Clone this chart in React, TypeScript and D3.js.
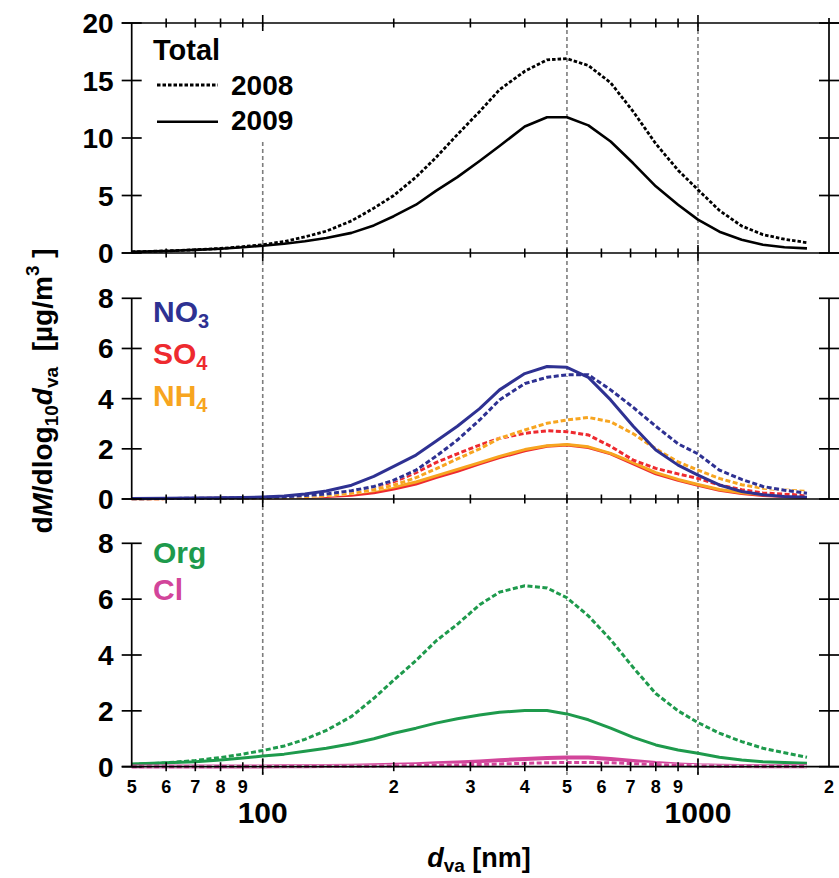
import React from "react";
import * as d3 from "d3";

// particle size (nm)
const sizes = [50, 60, 70, 80, 90, 100, 112, 125, 140, 160, 180, 200, 225, 250, 280, 315, 350, 400, 450, 500, 560, 630, 710, 800, 900, 1000, 1120, 1260, 1410, 1580, 1780];

const total2008 = [0.1, 0.18, 0.28, 0.4, 0.55, 0.72, 1.0, 1.4, 1.9, 2.8, 3.9, 5.0, 6.6, 8.3, 10.3, 12.3, 14.2, 15.8, 16.8, 16.9, 16.3, 14.8, 12.3, 9.5, 7.2, 5.5, 3.7, 2.35, 1.6, 1.2, 0.9];
const total2009 = [0.1, 0.18, 0.27, 0.37, 0.5, 0.63, 0.8, 1.02, 1.3, 1.75, 2.4, 3.2, 4.2, 5.4, 6.6, 8.0, 9.3, 11.0, 11.8, 11.8, 11.1, 9.7, 7.8, 5.8, 4.2, 2.9, 1.85, 1.15, 0.72, 0.5, 0.4];

const no3_2008 = [0.01, 0.02, 0.03, 0.035, 0.045, 0.06, 0.09, 0.14, 0.2, 0.33, 0.5, 0.75, 1.15, 1.7, 2.35, 3.15, 3.95, 4.6, 4.85, 4.95, 4.95, 4.35, 3.65, 2.9, 2.2, 1.8, 1.15, 0.78, 0.5, 0.35, 0.23];
const no3_2009 = [0.02, 0.03, 0.04, 0.05, 0.06, 0.08, 0.12, 0.2, 0.32, 0.55, 0.9, 1.3, 1.75, 2.3, 2.9, 3.6, 4.35, 5.0, 5.28, 5.25, 4.85, 3.95, 2.9, 1.95, 1.35, 0.95, 0.56, 0.3, 0.17, 0.1, 0.07];
const so4_2008 = [0.01, 0.015, 0.02, 0.03, 0.04, 0.05, 0.07, 0.11, 0.17, 0.28, 0.45, 0.68, 1.05, 1.45, 1.8, 2.15, 2.42, 2.62, 2.72, 2.68, 2.55, 2.1, 1.55, 1.22, 1.0, 0.82, 0.56, 0.37, 0.24, 0.19, 0.16];
const so4_2009 = [0.01, 0.015, 0.02, 0.025, 0.03, 0.04, 0.05, 0.07, 0.1, 0.15, 0.25, 0.4, 0.6, 0.85, 1.1, 1.4, 1.65, 1.92, 2.1, 2.15, 2.05, 1.8, 1.4, 1.0, 0.75, 0.55, 0.35, 0.22, 0.14, 0.1, 0.07];
const nh4_2008 = [0.01, 0.015, 0.02, 0.025, 0.03, 0.04, 0.06, 0.09, 0.14, 0.23, 0.37, 0.55, 0.85, 1.2, 1.6, 2.0, 2.42, 2.75, 3.02, 3.15, 3.25, 3.08, 2.6, 2.0, 1.48, 1.15, 0.82, 0.57, 0.43, 0.36, 0.3];
const nh4_2009 = [0.01, 0.015, 0.02, 0.03, 0.04, 0.05, 0.07, 0.1, 0.14, 0.22, 0.33, 0.48, 0.68, 0.92, 1.18, 1.45, 1.7, 1.97, 2.12, 2.17, 2.08, 1.82, 1.45, 1.05, 0.78, 0.58, 0.38, 0.25, 0.18, 0.15, 0.13];

const org2008 = [0.08, 0.14, 0.22, 0.33, 0.45, 0.58, 0.74, 0.98, 1.3, 1.8, 2.45, 3.1, 3.8, 4.5, 5.1, 5.8, 6.25, 6.48, 6.4, 6.05, 5.4, 4.55, 3.55, 2.62, 2.0, 1.58, 1.2, 0.9, 0.66, 0.5, 0.34];
const org2009 = [0.1, 0.14, 0.18, 0.24, 0.31, 0.38, 0.45, 0.55, 0.66, 0.82, 1.0, 1.2, 1.38, 1.56, 1.72, 1.85, 1.95, 2.01, 2.01, 1.89, 1.68, 1.38, 1.05, 0.78, 0.6, 0.48, 0.34, 0.24, 0.18, 0.15, 0.12];
const cl2008 = [0.0, 0.0, 0.0, 0.003, 0.004, 0.005, 0.007, 0.01, 0.012, 0.015, 0.02, 0.03, 0.04, 0.05, 0.065, 0.08, 0.1, 0.12, 0.14, 0.15, 0.15, 0.14, 0.11, 0.08, 0.05, 0.03, 0.02, 0.015, 0.01, 0.01, 0.01];
const cl2009 = [0.01, 0.01, 0.01, 0.01, 0.01, 0.01, 0.015, 0.02, 0.025, 0.035, 0.05, 0.07, 0.09, 0.12, 0.15, 0.19, 0.23, 0.28, 0.31, 0.33, 0.33, 0.28, 0.2, 0.13, 0.08, 0.05, 0.035, 0.025, 0.02, 0.02, 0.02];

const xMinorTicks = [60, 70, 80, 90, 200, 300, 400, 500, 600, 700, 800, 900];
const xMajorTicks = [100, 1000];
const xMinorLabels = [50, 60, 70, 80, 90, 200, 300, 400, 500, 600, 700, 800, 900, 2000];
const gridValues = [100, 500, 1000];
const ticksTotal = [0, 5, 10, 15, 20];
const ticksSpecies = [0, 2, 4, 6, 8];

const C = {
  no3: "#2E3192",
  so4: "#EE2A2F",
  nh4: "#F7A520",
  org: "#1E9A4C",
  cl: "#D2459A",
};

const FONT = "'Liberation Sans', Arial, Helvetica, sans-serif";

const W = 839;
const H = 878;
const X0 = 131.7;
const X1 = 829;

const x = d3.scaleLog().domain([50, 2000]).range([X0, X1]);

type Series = { values: number[]; color: string; dashed: boolean; width: number };
type Panel = {
  top: number;
  bottom: number;
  max: number;
  ticks: number[];
  topFrame: boolean;
  series: Series[];
};

const panels: Panel[] = [
  {
    top: 23,
    bottom: 253,
    max: 20,
    ticks: ticksTotal,
    topFrame: true,
    series: [
      { values: total2009, color: "#000", dashed: false, width: 2.6 },
      { values: total2008, color: "#000", dashed: true, width: 2.8 },
    ],
  },
  {
    top: 298.3,
    bottom: 499,
    max: 8,
    ticks: ticksSpecies,
    topFrame: false,
    series: [
      { values: so4_2009, color: C.so4, dashed: false, width: 3 },
      { values: nh4_2009, color: C.nh4, dashed: false, width: 3 },
      { values: so4_2008, color: C.so4, dashed: true, width: 3 },
      { values: nh4_2008, color: C.nh4, dashed: true, width: 3 },
      { values: no3_2008, color: C.no3, dashed: true, width: 3 },
      { values: no3_2009, color: C.no3, dashed: false, width: 3 },
    ],
  },
  {
    top: 543.3,
    bottom: 766.7,
    max: 8,
    ticks: ticksSpecies,
    topFrame: false,
    series: [
      { values: org2008, color: C.org, dashed: true, width: 3 },
      { values: org2009, color: C.org, dashed: false, width: 3 },
      { values: cl2009, color: C.cl, dashed: false, width: 4 },
      { values: cl2008, color: C.cl, dashed: true, width: 3 },
    ],
  },
];

function XTicks({ y }: { y: number }) {
  return (
    <g stroke="#000" strokeWidth={1.6}>
      {xMinorTicks.map((t) => (
        <line key={"m" + t} x1={x(t)} x2={x(t)} y1={y - 4.5} y2={y + 4.5} />
      ))}
      {xMajorTicks.map((t) => (
        <line key={"M" + t} x1={x(t)} x2={x(t)} y1={y - 8} y2={y + 8} />
      ))}
    </g>
  );
}

function PanelView({ p }: { p: Panel }) {
  const y = d3.scaleLinear().domain([0, p.max]).range([p.bottom, p.top]);
  const line = d3
    .line<number>()
    .x((_, i) => x(sizes[i]))
    .y((d) => y(d));
  return (
    <g>
      {p.series.map((s, i) =>
        s.dashed ? (
          <g key={i}>
            {s.color !== "#000" && (
              <path d={line(s.values) || ""} fill="none" stroke="#fff" strokeWidth={s.width} strokeLinejoin="round" />
            )}
            <path
              d={line(s.values) || ""}
              fill="none"
              stroke={s.color}
              strokeWidth={s.width}
              strokeDasharray={s.color === "#000" ? "3.5,2" : "5,2.5"}
            />
          </g>
        ) : (
          <path key={i} d={line(s.values) || ""} fill="none" stroke={s.color} strokeWidth={s.width} strokeLinejoin="round" />
        )
      )}
      <g stroke="#000" strokeWidth={1.7}>
        <line x1={X0} x2={X0} y1={p.top} y2={p.bottom} />
        <line x1={X1} x2={X1} y1={p.top - (p.topFrame ? 5 : 0)} y2={p.bottom} />
        <line x1={X0 - 10} x2={X1 + 10} y1={p.bottom} y2={p.bottom} />
        {p.topFrame && <line x1={X0 - 10} x2={X1 + 10} y1={p.top} y2={p.top} />}
        {p.ticks.map((t) => (
          <g key={t}>
            <line x1={X0 - 10} x2={X0 + 10} y1={y(t)} y2={y(t)} />
            <line x1={X1 - 10} x2={X1 + 10} y1={y(t)} y2={y(t)} />
          </g>
        ))}
      </g>
      <XTicks y={p.bottom} />
      {p.topFrame && <XTicks y={p.top} />}
      <g fontFamily={FONT} fontWeight="bold" fontSize={28} textAnchor="end" fill="#000">
        {p.ticks.map((t) => (
          <text key={t} x={X0 - 18} y={y(t) + 10}>
            {t}
          </text>
        ))}
      </g>
    </g>
  );
}

function fmtMinor(v: number) {
  return String(v).replace(/0+$/, "");
}

export default function App() {
  const p1 = panels[0];
  return (
    <svg
      width={W}
      height={H}
      viewBox={`0 0 ${W} ${H}`}
      style={{ position: "absolute", left: 0, top: 0, background: "#fff" }}
    >
      <rect x={0} y={0} width={W} height={H} fill="#fff" />
      {/* vertical dashed reference lines */}
      <g stroke="#7d7d7d" strokeWidth={1.6} strokeDasharray="4,3">
        {gridValues.map((g) => (
          <line key={g} x1={x(g)} x2={x(g)} y1={p1.top} y2={775} />
        ))}
      </g>
      {/* legend background in top panel */}
      <rect x={140} y={30} width={170} height={112} fill="#fff" />
      {panels.map((p, i) => (
        <PanelView key={i} p={p} />
      ))}

      {/* top legend */}
      <g fontFamily={FONT} fontWeight="bold" fill="#000">
        <text x={153} y={60} fontSize={29}>Total</text>
        <line x1={157} x2={218} y1={85} y2={85} stroke="#000" strokeWidth={2.8} strokeDasharray="3.5,2" />
        <text x={231} y={95} fontSize={28}>2008</text>
        <line x1={157} x2={218} y1={121.7} y2={121.7} stroke="#000" strokeWidth={2.6} />
        <text x={231} y={130} fontSize={28}>2009</text>
      </g>

      {/* species legends */}
      <g fontFamily={FONT} fontWeight="bold" fontSize={30}>
        <text x={153} y={322} fill={C.no3}>
          NO<tspan fontSize={20} dy={6}>3</tspan>
        </text>
        <text x={153} y={363.5} fill={C.so4}>
          SO<tspan fontSize={20} dy={6}>4</tspan>
        </text>
        <text x={153} y={405.5} fill={C.nh4}>
          NH<tspan fontSize={20} dy={6}>4</tspan>
        </text>
        <text x={153} y={563} fill={C.org}>Org</text>
        <text x={153} y={600} fill={C.cl}>Cl</text>
      </g>

      {/* x tick labels */}
      <g fontFamily={FONT} fontWeight="bold" fill="#000" textAnchor="middle">
        {xMinorLabels.map((t) => (
          <text key={t} x={x(t)} y={793} fontSize={18}>
            {fmtMinor(t)}
          </text>
        ))}
        {xMajorTicks.map((t) => (
          <text key={t} x={x(t)} y={823} fontSize={30}>
            {t}
          </text>
        ))}
      </g>

      {/* x axis title */}
      <text x={479} y={867} fontFamily={FONT} fontWeight="bold" fontSize={27} textAnchor="middle" fill="#000">
        <tspan fontStyle="italic">d</tspan>
        <tspan fontSize={19} dy={5}>va</tspan>
        <tspan dy={-5}> [nm]</tspan>
      </text>

      {/* y axis title */}
      <text
        transform="translate(52,391) rotate(-90)"
        fontFamily={FONT}
        fontWeight="bold"
        fontSize={28}
        textAnchor="middle"
        fill="#000"
      >
        d<tspan fontStyle="italic">M</tspan>/dlog
        <tspan fontSize={19} dy={6}>10</tspan>
        <tspan dy={-6} fontStyle="italic">d</tspan>
        <tspan fontSize={19} dy={6}>va</tspan>
        <tspan dy={-6}>{"\u00a0 [µg/m"}</tspan>
        <tspan fontSize={19} dy={-13}>3</tspan>
        <tspan dy={13}>{"\u00a0]"}</tspan>
      </text>
    </svg>
  );
}
